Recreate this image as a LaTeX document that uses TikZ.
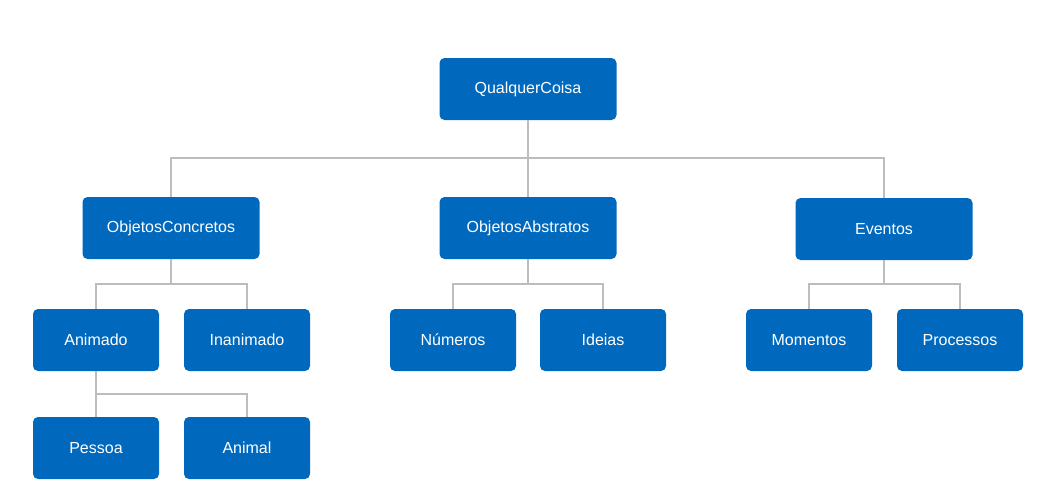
\documentclass[tikz,border=0pt]{standalone}
\usepackage{fontspec}
\setmainfont{Liberation Sans}
\definecolor{boxblue}{HTML}{0069BE}
\definecolor{linegray}{HTML}{BDBDBD}
\begin{document}
\begin{tikzpicture}[x=1pt,y=-1pt,
  box/.style={fill=boxblue, draw=none, rounded corners=5pt, text=white,
    minimum height=62pt, inner sep=0pt, font=\fontsize{16}{19}\selectfont},
  bigbox/.style={box, minimum width=177pt},
  smallbox/.style={box, minimum width=126pt},
  link/.style={draw=linegray, line width=2pt}]
\useasboundingbox (0,0) rectangle (1054,496);
\node[bigbox] (qc) at (528,89) {QualquerCoisa};
\node[bigbox] (oc) at (171,228) {ObjetosConcretos};
\node[bigbox] (oa) at (528,228) {ObjetosAbstratos};
\node[bigbox] (ev) at (884,229) {Eventos};
\node[smallbox] (an) at (96,340) {Animado};
\node[smallbox] (in) at (247,340) {Inanimado};
\node[smallbox] (nu) at (453,340) {Números};
\node[smallbox] (id) at (603,340) {Ideias};
\node[smallbox] (mo) at (809,340) {Momentos};
\node[smallbox] (pr) at (960,340) {Processos};
\node[smallbox] (pe) at (96,448) {Pessoa};
\node[smallbox] (al) at (247,448) {Animal};
\coordinate (bq) at (528,158);
\coordinate (bc) at (171,284);
\coordinate (ba) at (528,284);
\coordinate (be) at (884,284);
\coordinate (bn) at (96,394);
\path[link] (qc.south) -- (oa.north);
\path[link] (bq) -| (oc.north);
\path[link] (bq) -| (ev.north);
\path[link] (oc.south) -- (bc);
\path[link] (bc) -| (an.north);
\path[link] (bc) -| (in.north);
\path[link] (oa.south) -- (ba);
\path[link] (ba) -| (nu.north);
\path[link] (ba) -| (id.north);
\path[link] (ev.south) -- (be);
\path[link] (be) -| (mo.north);
\path[link] (be) -| (pr.north);
\path[link] (an.south) -- (bn);
\path[link] (bn) -| (pe.north);
\path[link] (bn) -| (al.north);
\end{tikzpicture}
\end{document}
